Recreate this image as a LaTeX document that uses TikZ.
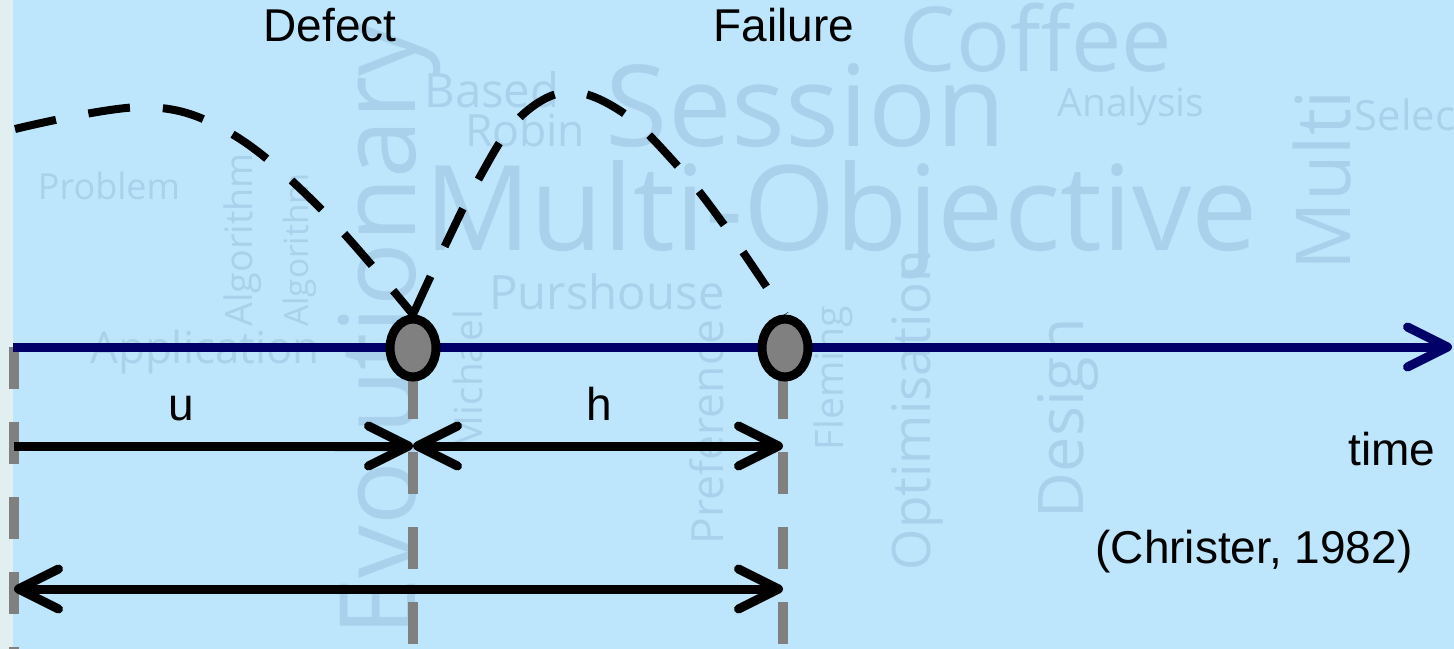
\documentclass[tikz,border=0pt]{standalone}
\usepackage{fontspec}
\usepackage{graphicx}
\setmainfont{Liberation Sans}
\newfontfamily\cloudfont{Open Sans}
\usetikzlibrary{arrows.meta,shapes.geometric}
\definecolor{bgblue}{RGB}{189,229,251}
\definecolor{stripc}{RGB}{226,239,240}
\definecolor{cloudc}{RGB}{169,209,235}
\definecolor{axisblue}{RGB}{0,0,104}
\definecolor{guide}{RGB}{128,128,128}
\newcommand\cloudword[2]{\resizebox{#1}{!}{\cloudfont #2}}
\begin{document}
\begin{tikzpicture}[x=0.75pt,y=-0.75pt,
  cw/.style={inner sep=0pt, text=cloudc},
  cwr/.style={inner sep=0pt, text=cloudc, rotate=90},
  lbl/.style={font=\fontsize{34.5}{40}\selectfont, inner sep=0pt, anchor=base},
  guideline/.style={draw=guide, line width=7.5pt, dash pattern=on 31.5pt off 24.75pt},
  timeaxis/.style={draw=axisblue, line width=6.75pt, -{Straight Barb[length=30pt,width=30pt,round]}},
  meas/.style={draw=black, line width=6.75pt},
  event/.style={ellipse, draw=black, fill=guide, line width=6.75pt, minimum width=34.5pt, minimum height=43.5pt, inner sep=0pt},
  lifecurve/.style={draw=black, line width=6pt, dash pattern=on 31.5pt off 24.75pt}]
\useasboundingbox (0,0) rectangle (1454,649);
\fill[stripc] (0,0) rectangle (13,649);
\fill[bgblue] (13,0) rectangle (1454,649);
% word cloud background
\node[cw] (w1) at (1036,38) {\cloudword{204pt}{Coffee}};
\node[cw] (w2) at (806,106) {\cloudword{300pt}{Session}};
\node[cw] (w3) at (841,220) {\cloudword{625pt}{Multi-Objective}};
\node[cw] (w5) at (492,90) {\cloudword{101.25pt}{Based}};
\node[cw] (w6) at (525,130) {\cloudword{90pt}{Robin}};
\node[cw] (w7) at (607,292) {\cloudword{176.25pt}{Purshouse}};
\node[cw] (w8) at (1131,106) {\cloudword{110pt}{Analysis}};
\node[cw] (w11) at (109,186) {\cloudword{106.5pt}{Problem}};
\node[cw] (w12) at (205,352) {\cloudword{172pt}{Application}};
\node[cw] (w13) at (1405,115) {\cloudword{75pt}{Selec}};
\node[cwr] (w14) at (1068,418) {\cloudword{150pt}{Design}};
\node[cwr] (w15) at (1322,180) {\cloudword{135pt}{Multi}};
\node[cwr] (w16) at (388,330) {\cloudword{460pt}{Evolutionary}};
\node[cwr] (w17) at (917,410) {\cloudword{240pt}{Optimisation}};
\node[cwr] (w20) at (707,432) {\cloudword{168pt}{Preference}};
\node[cwr] (w21) at (243,240) {\cloudword{130pt}{Algorithm}};
\node[cwr] (w22) at (300,250) {\cloudword{115pt}{Algorithm}};
\node[cwr] (w23) at (833,378) {\cloudword{108pt}{Fleming}};
\node[cwr] (w24) at (468,380) {\cloudword{105pt}{Michael}};
% reference points
\coordinate (g0t) at (14,347);
\coordinate (g0b) at (14,649);
\coordinate (g1t) at (413,377);
\coordinate (g1b) at (413,649);
\coordinate (g2t) at (783,377);
\coordinate (g2b) at (783,649);
\coordinate (ax0) at (13,347);
\coordinate (ax1) at (1452,347);
\coordinate (u0) at (14,446);
\coordinate (u1) at (413,446);
\coordinate (h1) at (783,446);
\coordinate (t0) at (14,589);
\coordinate (t1) at (783,589);
% guide lines
\draw[guideline] (g0t) -- (g0b);
\draw[guideline] (g1t) -- (g1b);
\draw[guideline] (g2t) -- (g2b);
% time axis
\draw[timeaxis] (ax0) -- (ax1);
% events
\node[event] (defect) at (413,348) {};
\node[event] (failure) at (785,348) {};
% measures
\draw[meas, -{Straight Barb[length=30pt,width=30pt,round]}] (u0) -- (u1);
\draw[meas, {Straight Barb[length=30pt,width=30pt,round]}-{Straight Barb[length=30pt,width=30pt,round]}] (u1) -- (h1);
\draw[meas, {Straight Barb[length=30pt,width=30pt,round]}-{Straight Barb[length=30pt,width=30pt,round]}] (t0) -- (t1);
% dashed life curves
\draw[lifecurve] plot[smooth, tension=0.6] coordinates {(15,129) (145,107) (232,134) (322,210) (defect.north)};
\draw[lifecurve] plot[smooth, tension=0.6] coordinates {(defect.north) (443,250) (477,182) (517,120) (567,92) (622,112) (675,163) (722,222) (failure.north)};
% labels
\node[lbl] (ldefect) at (330,42) {Defect};
\node[lbl] (lfailure) at (784,42) {Failure};
\node[lbl] (lu) at (181,420) {u};
\node[lbl] (lh) at (599,420) {h};
\node[lbl] (ltime) at (1392,465) {time};
\node[lbl] (lref) at (1254,563) {(Christer, 1982)};
\end{tikzpicture}
\end{document}
